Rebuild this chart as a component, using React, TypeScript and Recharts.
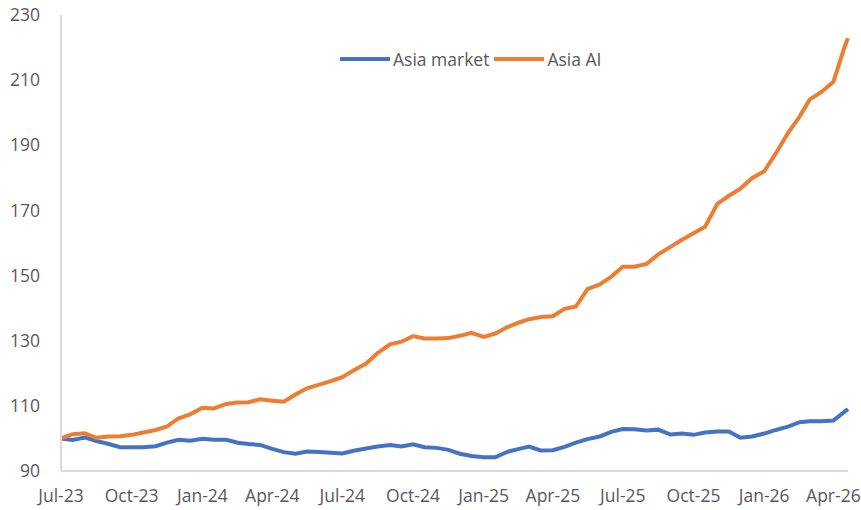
import React from "react";
import { LineChart, Line, XAxis, YAxis } from "recharts";

// Index levels, half-monthly readings (Jul-23 = 100)
const dates = [
  "2023-07-01", "2023-07-16", "2023-08-01", "2023-08-16", "2023-09-01", "2023-09-16",
  "2023-10-01", "2023-10-16", "2023-11-01", "2023-11-16", "2023-12-01", "2023-12-16",
  "2024-01-01", "2024-01-16", "2024-02-01", "2024-02-16", "2024-03-01", "2024-03-16",
  "2024-04-01", "2024-04-16", "2024-05-01", "2024-05-16", "2024-06-01", "2024-06-16",
  "2024-07-01", "2024-07-16", "2024-08-01", "2024-08-16", "2024-09-01", "2024-09-16",
  "2024-10-01", "2024-10-16", "2024-11-01", "2024-11-16", "2024-12-01", "2024-12-16",
  "2025-01-01", "2025-01-16", "2025-02-01", "2025-02-16", "2025-03-01", "2025-03-16",
  "2025-04-01", "2025-04-16", "2025-05-01", "2025-05-16", "2025-06-01", "2025-06-16",
  "2025-07-01", "2025-07-16", "2025-08-01", "2025-08-16", "2025-09-01", "2025-09-16",
  "2025-10-01", "2025-10-16", "2025-11-01", "2025-11-16", "2025-12-01", "2025-12-16",
  "2026-01-01", "2026-01-16", "2026-02-01", "2026-02-16", "2026-03-01", "2026-03-16",
  "2026-04-01", "2026-04-16", "2026-04-20",
];

const asiaMarket = [
  100, 99.5, 100.3, 99.2, 98.3, 97.3,
  97.3, 97.3, 97.6, 98.7, 99.6, 99.3,
  99.9, 99.6, 99.6, 98.7, 98.3, 98,
  96.8, 95.8, 95.3, 96, 95.8, 95.6,
  95.4, 96.2, 96.9, 97.5, 98, 97.5,
  98.2, 97.3, 97.1, 96.5, 95.3, 94.6,
  94.2, 94.2, 95.9, 96.8, 97.5, 96.3,
  96.4, 97.4, 98.7, 99.8, 100.6, 102,
  102.9, 102.8, 102.4, 102.7, 101.2, 101.5,
  101.1, 101.8, 102.1, 102.1, 100.2, 100.6,
  101.5, 102.6, 103.6, 105, 105.3, 105.3,
  105.5, 108.3, 109,
];

const asiaAI = [
  100, 101.3, 101.6, 100.2, 100.6, 100.7,
  101.1, 101.8, 102.6, 103.7, 106.2, 107.4,
  109.4, 109.2, 110.6, 111, 111.1, 112,
  111.6, 111.3, 113.5, 115.4, 116.5, 117.6,
  118.8, 120.9, 123, 126.2, 128.9, 129.7,
  131.4, 130.7, 130.7, 130.8, 131.5, 132.4,
  131.2, 132.2, 134.2, 135.6, 136.6, 137.3,
  137.5, 139.8, 140.5, 145.8, 147.3, 149.7,
  152.7, 152.7, 153.6, 156.5, 158.8, 161,
  163, 165, 172, 174.5, 176.7, 179.9,
  182, 187.5, 193.8, 198.8, 204, 206.3,
  209.5, 220.5, 222.9,
];

const xTicks = [
  "2023-07-01", "2023-10-01", "2024-01-01", "2024-04-01", "2024-07-01", "2024-10-01",
  "2025-01-01", "2025-04-01", "2025-07-01", "2025-10-01", "2026-01-01", "2026-04-01",
];
const yTicks = [90, 110, 130, 150, 170, 190, 210, 230];
const monthNames = ["Jan", "Feb", "Mar", "Apr", "May", "Jun", "Jul", "Aug", "Sep", "Oct", "Nov", "Dec"];

const series = [
  { key: "market", name: "Asia market", color: "#4472C4" },
  { key: "ai", name: "Asia AI", color: "#ED7D31" },
];

const data = dates.map((d, i) => ({
  t: Date.parse(d),
  market: asiaMarket[i],
  ai: asiaAI[i],
}));

const fmtDate = (v: number) => {
  const d = new Date(v);
  return `${monthNames[d.getUTCMonth()]}-${String(d.getUTCFullYear()).slice(2)}`;
};

const FONT = "'Open Sans', sans-serif";
const tickStyle = { fill: "#595959", fontSize: 17.5, fontFamily: FONT };

export default function App() {
  return (
    <div style={{ position: "relative", width: 861, height: 510, overflow: "hidden", background: "#fff" }}>
      <style>{"html,body{margin:0;padding:0;overflow:hidden}"}</style>
      <LineChart
        width={861}
        height={510}
        data={data}
        margin={{ top: 15, right: 13, bottom: 0, left: 0 }}
        style={{ overflow: "visible" }}
      >
        <XAxis
          type="number"
          dataKey="t"
          domain={[Date.parse(dates[0]), Date.parse(dates[dates.length - 1])]}
          ticks={xTicks.map((d) => Date.parse(d))}
          tickFormatter={fmtDate}
          interval={0}
          height={39}
          tick={tickStyle}
          tickLine={false}
          tickSize={0}
          tickMargin={19}
          axisLine={{ stroke: "#d9d9d9", strokeWidth: 2 }}
        />
        <YAxis
          type="number"
          domain={[90, 230]}
          ticks={yTicks}
          interval={0}
          width={61}
          tick={tickStyle}
          tickLine={false}
          tickSize={0}
          tickMargin={21}
          axisLine={{ stroke: "#d9d9d9", strokeWidth: 2 }}
        />
        {series.map((s) => (
          <Line
            key={s.key}
            type="linear"
            dataKey={s.key}
            name={s.name}
            stroke={s.color}
            strokeWidth={4}
            dot={false}
            isAnimationActive={false}
          />
        ))}
      </LineChart>

      {/* Legend */}
      <div
        style={{
          position: "absolute",
          top: 47,
          left: 340,
          display: "flex",
          alignItems: "center",
          fontFamily: FONT,
          fontSize: 17.5,
          color: "#595959",
          whiteSpace: "nowrap",
        }}
      >
        {series.map((s) => (
          <div key={s.key} style={{ display: "flex", alignItems: "center", marginRight: 5 }}>
            <span style={{ display: "inline-block", width: 50, height: 4, background: s.color, marginRight: 3 }} />
            <span>{s.name}</span>
          </div>
        ))}
      </div>
    </div>
  );
}
